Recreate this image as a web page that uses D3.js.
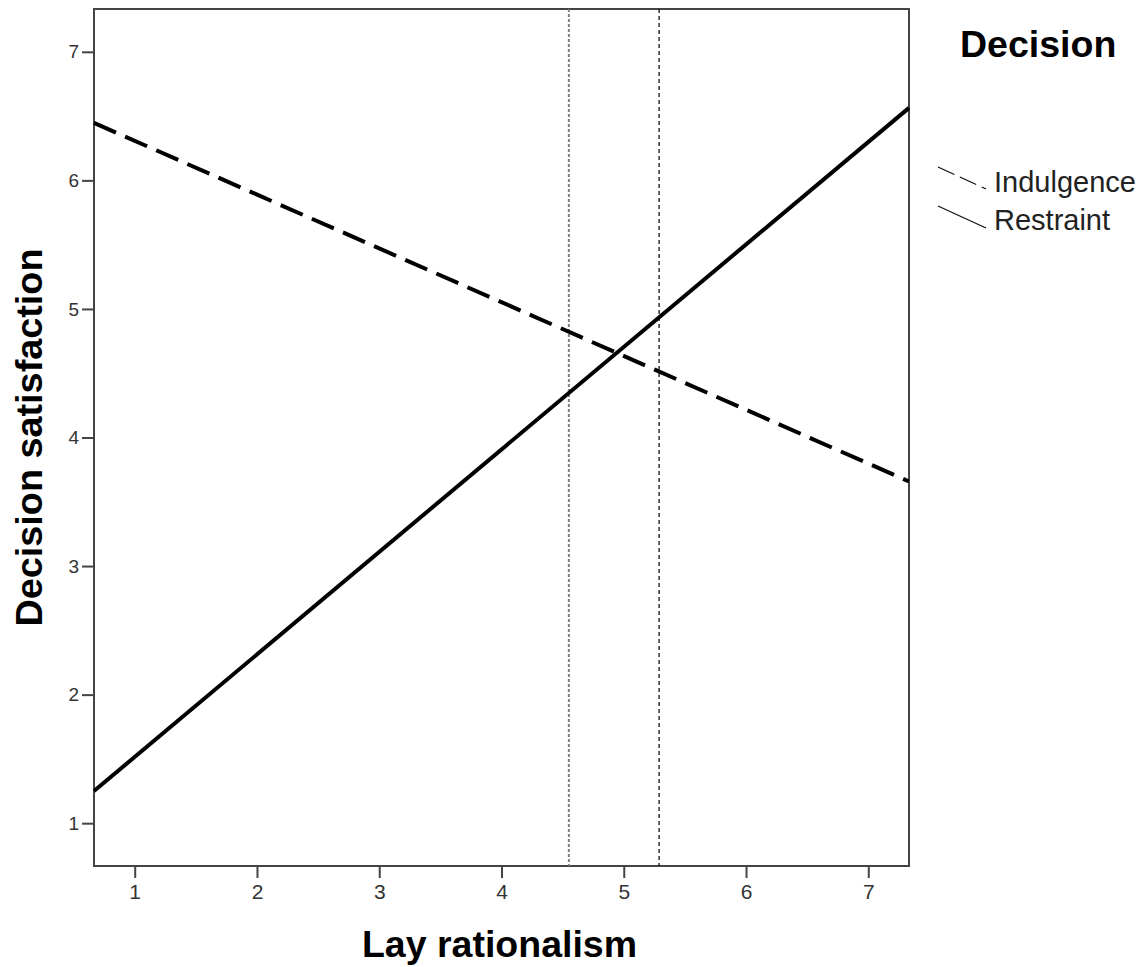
<!DOCTYPE html>
<html>
<head>
<meta charset="utf-8">
<script src="https://cdn.jsdelivr.net/npm/d3@7"></script>
<style>
  body { margin: 0; background: #fff; }
  text { font-family: "Liberation Sans", Arial, sans-serif; }
</style>
</head>
<body>
<svg id="plot" width="1144" height="967"></svg>
<script>
const svg = d3.select("#plot");

// data
const seriesNames = ["Indulgence", "Restraint"];
const lineX = [0.667, 7.333];               // ends of the fitted lines
const indulgenceY = [6.447, 3.658];
const restraintY = [1.25, 6.564];
const refLinesX = [4.551, 5.289];          // vertical reference lines
const xTicks = [1, 2, 3, 4, 5, 6, 7];
const yTicks = [1, 2, 3, 4, 5, 6, 7];

const plotLeft = 94, plotRight = 909, plotTop = 9, plotBottom = 866;

const x = d3.scaleLinear().domain([0.667, 7.333]).range([plotLeft, plotRight]);
const y = d3.scaleLinear().domain([0.667, 7.333]).range([plotBottom, plotTop]);

// frame
svg.append("rect")
    .attr("x", plotLeft).attr("y", plotTop)
    .attr("width", plotRight - plotLeft).attr("height", plotBottom - plotTop)
    .attr("fill", "none")
    .attr("stroke", "#444")
    .attr("stroke-width", 2);

// axes
const xAxis = svg.append("g")
    .attr("transform", `translate(0,${plotBottom})`)
    .call(d3.axisBottom(x).tickValues(xTicks).tickSize(12).tickPadding(6).tickFormat(d3.format("d")));
const yAxis = svg.append("g")
    .attr("transform", `translate(${plotLeft},0)`)
    .call(d3.axisLeft(y).tickValues(yTicks).tickSize(12).tickPadding(3).tickFormat(d3.format("d")));

[xAxis, yAxis].forEach(a => {
    a.select(".domain").remove();
    a.selectAll(".tick line").attr("stroke", "#444").attr("stroke-width", 2);
    a.selectAll(".tick text").attr("fill", "#333")
        .attr("font-family", "Liberation Sans, Arial, sans-serif");
});
xAxis.selectAll(".tick text").attr("font-size", 21);
yAxis.selectAll(".tick text").attr("font-size", 19);

// reference lines
svg.append("line")
    .attr("x1", x(refLinesX[0])).attr("x2", x(refLinesX[0]))
    .attr("y1", plotTop).attr("y2", plotBottom)
    .attr("stroke", "#808080").attr("stroke-width", 2)
    .attr("stroke-dasharray", "3,2");
svg.append("line")
    .attr("x1", x(refLinesX[1])).attr("x2", x(refLinesX[1]))
    .attr("y1", plotTop).attr("y2", plotBottom)
    .attr("stroke", "#111").attr("stroke-width", 1.3)
    .attr("stroke-dasharray", "4,3");

// fitted lines
const line = d3.line().x(d => x(d[0])).y(d => y(d[1]));
svg.append("path")
    .datum(lineX.map((v, i) => [v, indulgenceY[i]]))
    .attr("d", line)
    .attr("fill", "none").attr("stroke", "#000")
    .attr("stroke-width", 4)
    .attr("stroke-dasharray", "24,10");
svg.append("path")
    .datum(lineX.map((v, i) => [v, restraintY[i]]))
    .attr("d", line)
    .attr("fill", "none").attr("stroke", "#000")
    .attr("stroke-width", 4);

// axis titles
svg.append("text")
    .attr("x", 499.5).attr("y", 957)
    .attr("text-anchor", "middle")
    .attr("font-size", 37.5).attr("font-weight", "bold")
    .text("Lay rationalism");
svg.append("text")
    .attr("transform", `translate(42,437.5) rotate(-90)`)
    .attr("text-anchor", "middle")
    .attr("font-size", 37.8).attr("font-weight", "bold")
    .text("Decision satisfaction");

// legend
svg.append("text")
    .attr("x", 960).attr("y", 57)
    .attr("font-size", 37.5).attr("font-weight", "bold")
    .text("Decision");
seriesNames.forEach((name, i) => {
    const yy = 167 + i * 39;
    svg.append("line")
        .attr("x1", 938).attr("y1", yy)
        .attr("x2", 986).attr("y2", yy + 22)
        .attr("stroke", "#111").attr("stroke-width", 1.3)
        .attr("stroke-dasharray", i === 0 ? "18,6" : null);
    svg.append("text")
        .attr("x", 994).attr("y", i === 0 ? 191.5 : 230)
        .attr("font-size", 29).attr("fill", "#222")
        .text(name);
});
</script>
</body>
</html>
